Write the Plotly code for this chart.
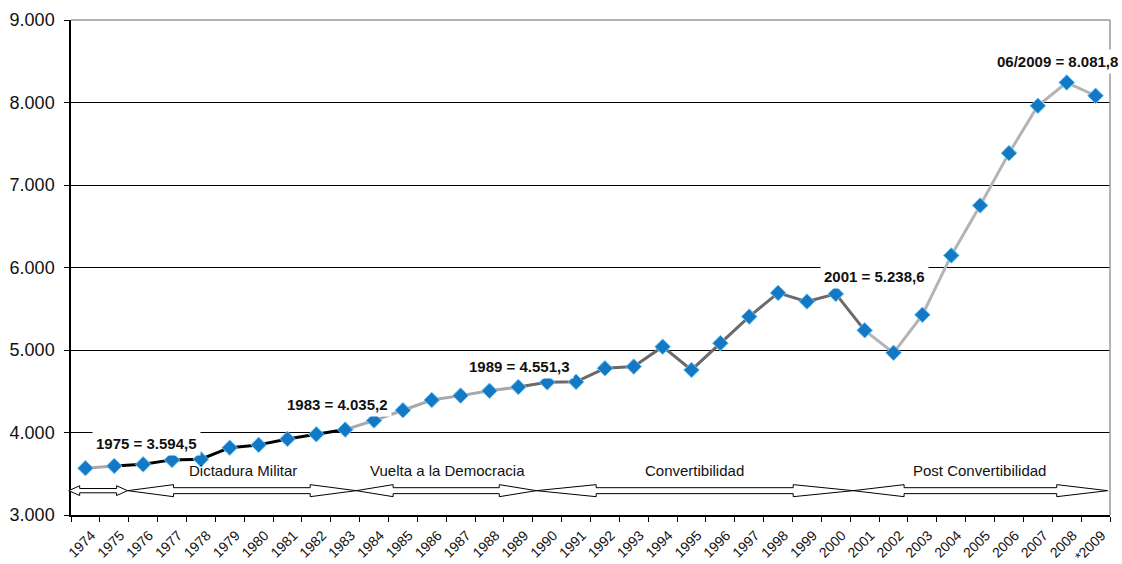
import plotly.graph_objects as go

years = ["1974", "1975", "1976", "1977", "1978", "1979", "1980", "1981", "1982", "1983",
         "1984", "1985", "1986", "1987", "1988", "1989", "1990", "1991", "1992", "1993",
         "1994", "1995", "1996", "1997", "1998", "1999", "2000", "2001", "2002", "2003",
         "2004", "2005", "2006", "2007", "2008", "*2009"]
values = [3568, 3594.5, 3614, 3668, 3676, 3816, 3850, 3922, 3978, 4035.2,
          4145, 4270, 4394, 4447, 4505, 4551.3, 4608, 4614, 4778, 4799,
          5040, 4758, 5083, 5405, 5692, 5587, 5680, 5238.6, 4966, 5426,
          6146, 6752, 7386, 7960, 8242, 8081.8]

# segments of the line: (first year index, last year index, colour)
segments = [(0, 1, "#a8a8a8"), (1, 9, "#000000"), (9, 15, "#a8a8a8"),
            (15, 27, "#6a6a6a"), (27, 35, "#b4b4b4")]

# callouts: (text, x position in category units, y value)
callouts = [("1975 = 3.594,5", 2.11, 3870),
            ("1983 = 4.035,2", 8.75, 4345),
            ("1989 = 4.551,3", 15.05, 4806),
            ("2001 = 5.238,6", 27.35, 5897),
            ("06/2009 = 8.081,8", 33.67, 8491)]

# periods: (label, start, end in category units, head length px)
periods = [("", -0.58, 1.46, 11),
           ("Dictadura Militar", 1.46, 9.38, 46),
           ("Vuelta a la Democracia", 9.38, 15.62, 37),
           ("Convertibilidad", 15.62, 26.6, 60),
           ("Post Convertibilidad", 26.6, 35.42, 51)]
period_label_x = [None, 5.45, 12.53, 21.1, 30.97]

YMIN, YMAX = 3000, 9000
N = len(years)
PLOT_W = 1040.0

fig = go.Figure()
for a, b, col in segments:
    fig.add_trace(go.Scatter(x=years[a:b + 1], y=values[a:b + 1], mode="lines",
                             line=dict(color=col, width=3), hoverinfo="skip",
                             showlegend=False))
fig.add_trace(go.Scatter(x=years, y=values, mode="markers",
                         marker=dict(symbol="diamond", size=12, color="#1479c4",
                                     line=dict(color="#6cc3f2", width=1)),
                         showlegend=False))

def px(idx):
    return (idx + 0.5) / N

def py(v):
    return (v - YMIN) / (YMAX - YMIN)

shapes = []
yc = 3295
for i, (lab, s, e, hl) in enumerate(periods):
    if i == 0:
        H, S = 59, 26
    else:
        H, S = 73, 36
    x0, x1 = px(s), px(e)
    h = hl / PLOT_W
    pts = [(x0, yc), (x0 + h, yc + H), (x0 + h, yc + S), (x1 - h, yc + S), (x1 - h, yc + H),
           (x1, yc), (x1 - h, yc - H), (x1 - h, yc - S), (x0 + h, yc - S), (x0 + h, yc - H)]
    path = "M " + " L ".join(f"{x:.5f},{py(y):.5f}" for x, y in pts) + " Z"
    shapes.append(dict(type="path", path=path, xref="paper", yref="paper",
                       line=dict(color="#000000", width=1), fillcolor="white", layer="above"))

# plot-area border (top and right) in grey
shapes.append(dict(type="line", xref="paper", yref="paper", x0=0, x1=1, y0=1, y1=1,
                   line=dict(color="#9a9a9a", width=1.5), layer="above"))
shapes.append(dict(type="line", xref="paper", yref="paper", x0=1, x1=1, y0=0, y1=1,
                   line=dict(color="#9a9a9a", width=1.5), layer="above"))

annotations = []
for t, x, y in callouts:
    annotations.append(dict(text=f"<b>{t}</b>", x=x, y=y, xref="x", yref="y",
                            showarrow=False, bgcolor="white", borderpad=3,
                            font=dict(family="Liberation Sans, Arial, sans-serif",
                                      size=15, color="#111111")))
for (lab, s, e, hl), lx in zip(periods, period_label_x):
    if lab:
        annotations.append(dict(text=lab, x=lx, y=3545, xref="x", yref="y",
                                showarrow=False,
                                font=dict(family="Liberation Sans, Arial, sans-serif",
                                          size=15, color="#111111")))

fig.update_layout(
    width=1122, height=564,
    margin=dict(l=70.5, r=11.5, t=20, b=49, autoexpand=False),
    paper_bgcolor="white", plot_bgcolor="white",
    separators=",.",
    shapes=shapes, annotations=annotations,
    xaxis=dict(type="category", range=[-0.5, N - 0.5], showgrid=False,
               showline=True, linecolor="#000000", linewidth=1.5,
               ticks="outside", tickson="boundaries", ticklen=5, tickcolor="#000000",
               tickangle=-45, ticklabelstandoff=5, ticklabelshift=6,
               tickfont=dict(family="Liberation Sans, Arial, sans-serif",
                             size=14, color="#111111")),
    yaxis=dict(range=[YMIN, YMAX], tickvals=[3000, 4000, 5000, 6000, 7000, 8000, 9000],
               tickformat=",d", showgrid=True, gridcolor="#000000", gridwidth=1,
               showline=True, linecolor="#000000", linewidth=1.5, zeroline=False,
               ticks="outside", ticklen=5, tickcolor="#000000", ticklabelstandoff=6,
               tickfont=dict(family="Liberation Sans, Arial, sans-serif", size=18,
                             color="#111111")),
)

fig.write_html("out.html")
